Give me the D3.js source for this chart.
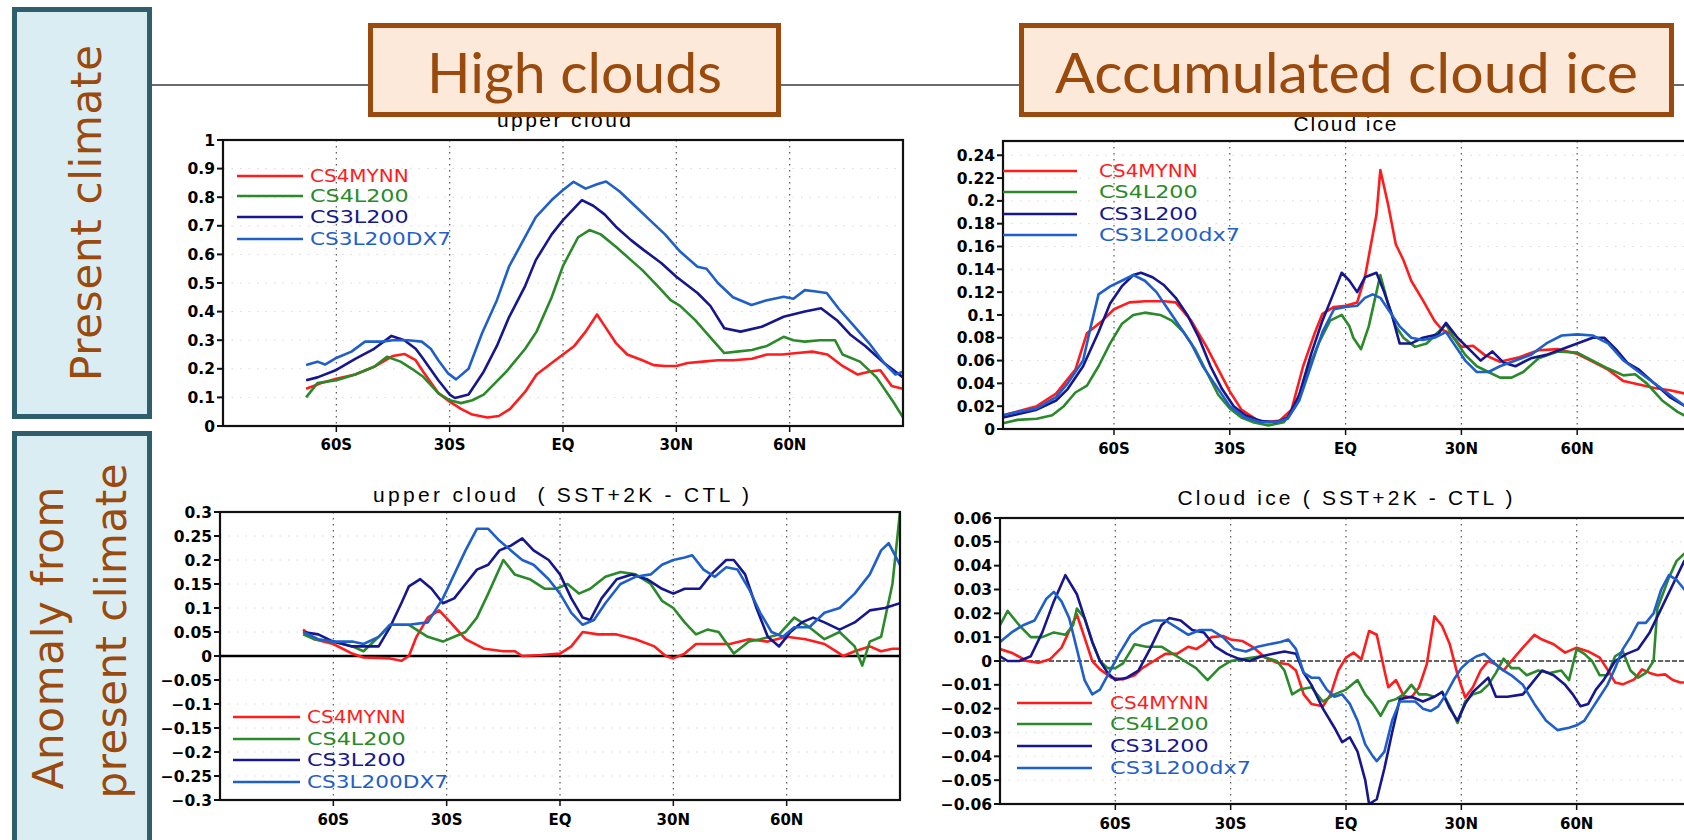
<!DOCTYPE html>
<html>
<head>
<meta charset="utf-8">
<script src="https://cdn.jsdelivr.net/npm/d3@7"></script>
<style>
  body { margin: 0; background: #fff; }
  svg { display: block; }
</style>
</head>
<body>
<script>
// ---- data ----
const latTicks = [-60, -30, 0, 30, 60];
const latLabels = ["60S", "30S", "EQ", "30N", "60N"];
const namesUpper = ["CS4MYNN", "CS4L200", "CS3L200", "CS3L200DX7"];
const namesIce = ["CS4MYNN", "CS4L200", "CS3L200", "CS3L200dx7"];

const ticksUC = [0, 0.1, 0.2, 0.3, 0.4, 0.5, 0.6, 0.7, 0.8, 0.9, 1];
const ticksUCd = [-0.3, -0.25, -0.2, -0.15, -0.1, -0.05, 0, 0.05, 0.1, 0.15, 0.2, 0.25, 0.3];
const ticksCI = [0, 0.02, 0.04, 0.06, 0.08, 0.1, 0.12, 0.14, 0.16, 0.18, 0.2, 0.22, 0.24];
const ticksCId = [-0.06, -0.05, -0.04, -0.03, -0.02, -0.01, 0, 0.01, 0.02, 0.03, 0.04, 0.05, 0.06];

// upper cloud, present climate  [lat, value]
const ucMynn = [[-68,.13],[-64,.15],[-60,.165],[-55,.18],[-50,.207],[-45,.245],[-42,.252],[-39,.23],[-37,.19],[-33,.115],[-30,.085],[-27,.06],[-24,.04],[-20,.03],[-17,.035],[-14,.06],[-10,.12],[-7,.18],[-3,.22],[0,.25],[3,.28],[6,.33],[9,.39],[11,.35],[14,.29],[17,.25],[21,.23],[24,.213],[27,.21],[30,.21],[33,.22],[37,.225],[41,.23],[45,.23],[50,.235],[54,.25],[58,.25],[62,.255],[66,.26],[70,.25],[74,.21],[78,.18],[81,.19],[84,.195],[87,.14],[90,.13]];
const ucL200 = [[-68,.10],[-65,.15],[-60,.16],[-55,.18],[-50,.207],[-46.6,.242],[-43,.225],[-40,.2],[-37,.172],[-33,.115],[-30,.09],[-27,.08],[-24,.09],[-21,.11],[-18,.15],[-15,.19],[-10,.27],[-7,.33],[-3,.45],[0,.56],[4,.66],[7,.685],[10,.67],[14,.627],[18,.58],[21,.545],[25,.49],[28.5,.44],[31,.42],[35,.37],[39,.31],[42.7,.255],[46,.26],[50,.266],[54,.28],[58.4,.312],[61,.3],[64,.295],[68,.3],[72,.3],[74,.25],[78.6,.225],[83,.17],[87.4,.085],[90,.03]];
const ucL200b = [[-68,.16],[-65,.17],[-60,.196],[-55,.235],[-50,.27],[-45.4,.315],[-42,.3],[-39,.27],[-37.4,.242],[-33,.16],[-30,.11],[-28.6,.098],[-25,.11],[-21,.19],[-17.5,.28],[-14.3,.38],[-10,.49],[-7.2,.58],[-3,.67],[0,.72],[5,.79],[8,.77],[11,.74],[14,.697],[18,.65],[21.4,.615],[26,.57],[30,.522],[35.6,.465],[39,.42],[42.7,.342],[47,.33],[52.6,.347],[58.4,.382],[64,.4],[68.3,.412],[72.5,.37],[76,.32],[80,.28],[85,.22],[90,.17]];
const ucDx7 = [[-68,.213],[-65,.225],[-63,.215],[-60,.238],[-56,.26],[-52.4,.295],[-48,.295],[-45,.30],[-41,.3],[-37.4,.295],[-35,.27],[-33,.23],[-30.5,.185],[-28.3,.163],[-25,.2],[-21.4,.325],[-17.5,.44],[-14.3,.557],[-10.5,.65],[-7.2,.73],[-3,.79],[0,.825],[2.8,.854],[6,.83],[9,.845],[11.4,.855],[15,.82],[19,.77],[23,.72],[27,.67],[31,.61],[35.6,.557],[38,.55],[41,.5],[45,.45],[49.9,.423],[54,.44],[58.4,.452],[61,.445],[64,.475],[67,.47],[69.8,.465],[73,.41],[77,.35],[81,.29],[85,.22],[88,.18],[90,.19]];

// upper cloud, SST+2K - CTL
const ucdMynn = [[-68,.055],[-65,.035],[-60,.025],[-55,.005],[-52,-.003],[-45,-.005],[-42,-.01],[-40,0],[-38,.04],[-35,.08],[-32,.095],[-29,.07],[-25,.035],[-20,.015],[-15,.01],[-12,.01],[-10,0],[-5,.002],[0,.005],[3,.02],[6,.05],[10,.045],[15,.045],[20,.035],[25,.02],[28,0],[30,-.005],[33,.005],[36,.025],[40,.025],[45,.025],[50,.035],[55,.03],[60,.04],[65,.035],[70,.025],[73,.01],[75,0],[78,.01],[82,.02],[85,.01],[88,.015],[90,.015]];
const ucdL200 = [[-68,.045],[-65,.035],[-60,.03],[-55,.02],[-52,.01],[-48,.04],[-45,.065],[-40,.065],[-35,.04],[-31,.03],[-28,.04],[-25,.05],[-22,.08],[-19,.13],[-15,.2],[-12,.17],[-8,.16],[-4,.14],[-1,.14],[2,.15],[5,.13],[8,.14],[12,.165],[16,.175],[20,.17],[24,.15],[27,.115],[30,.1],[33,.07],[36,.045],[39,.055],[42,.05],[46,.005],[50,.03],[53,.035],[58,.045],[62,.08],[66,.06],[70,.035],[74,.05],[78,.02],[80,-.02],[82,.03],[85,.04],[88,.15],[90,.3]];
const ucdL200b = [[-68,.05],[-64,.045],[-60,.03],[-55,.02],[-52,.02],[-48,.02],[-45,.06],[-42,.11],[-40,.145],[-37,.16],[-34,.14],[-31,.11],[-28,.12],[-25,.15],[-22,.18],[-19,.19],[-16,.22],[-13,.23],[-10,.245],[-7,.22],[-3,.2],[0,.17],[3,.12],[6,.08],[8,.075],[11,.12],[15,.16],[19,.17],[23,.16],[27,.14],[30,.13],[33,.14],[37,.14],[40,.17],[44,.2],[46,.2],[49,.17],[52,.1],[55,.04],[58,.02],[61,.05],[64,.07],[67,.08],[70,.07],[74,.055],[78,.07],[82,.095],[86,.1],[90,.11]];
const ucdDx7 = [[-68,.05],[-64,.035],[-60,.03],[-55,.03],[-52,.025],[-48,.04],[-45,.065],[-40,.065],[-35,.07],[-31,.12],[-28,.17],[-25,.22],[-22,.265],[-19,.265],[-16,.24],[-13,.22],[-10,.2],[-7,.19],[-3,.16],[0,.13],[3,.09],[6,.065],[9,.075],[12,.11],[16,.15],[20,.165],[24,.17],[27,.19],[30,.2],[33,.205],[35,.21],[38,.18],[41,.165],[44,.185],[47,.18],[50,.14],[53,.09],[56,.05],[59,.04],[62,.06],[66,.06],[70,.09],[74,.1],[78,.13],[82,.17],[85,.22],[87,.235],[90,.19]];

// accumulated cloud ice, present climate
const ciMynn = [[-88.75,.012],[-80,.02],[-75,.031],[-70,.052],[-67,.084],[-63,.095],[-60,.105],[-56,.111],[-52,.112],[-47,.112],[-44,.111],[-40,.095],[-36,.072],[-32,.046],[-30,.033],[-27,.017],[-23,.008],[-20,.006],[-17,.0075],[-14,.017],[-11,.055],[-8,.084],[-6,.101],[-3,.107],[0,.108],[3,.111],[5,.133],[8,.188],[9,.227],[11,.197],[13,.162],[15,.148],[17,.13],[20,.113],[23,.095],[25,.087],[27,.084],[30,.072],[33,.073],[36,.065],[40,.059],[45,.063],[50,.069],[55,.07],[60,.066],[64,.059],[68,.052],[72,.042],[76,.039],[80,.036],[84,.034],[88,.031],[90,.03]];
const ciL200 = [[-88.75,.005],[-85,.008],[-80,.009],[-76,.012],[-73,.02],[-70,.032],[-67,.038],[-64,.055],[-61,.075],[-58,.092],[-55,.1],[-52,.102],[-48,.1],[-45,.095],[-42,.085],[-39,.07],[-36,.05],[-33,.03],[-30,.018],[-27,.01],[-24,.006],[-20,.003],[-16,.006],[-13,.02],[-10,.05],[-7,.075],[-4,.095],[-1,.1],[1,.09],[2,.08],[4,.07],[6,.09],[8,.12],[9,.135],[11,.11],[13,.09],[15,.08],[18,.072],[21,.075],[24,.085],[26,.092],[28,.08],[31,.065],[34,.055],[37,.05],[40,.045],[43,.045],[46,.05],[50,.062],[55,.068],[60,.067],[64,.06],[68,.053],[72,.047],[75,.048],[78,.04],[82,.025],[86,.015],[90,.008]];
const ciL200b = [[-88.75,.01],[-85,.013],[-80,.017],[-75,.025],[-72,.035],[-68,.055],[-64,.085],[-61,.11],[-58,.125],[-55,.135],[-53,.137],[-50,.133],[-47,.126],[-44,.115],[-41,.1],[-38,.08],[-35,.055],[-32,.035],[-29,.02],[-26,.012],[-22,.007],[-18,.006],[-15,.01],[-12,.03],[-9,.065],[-6,.095],[-3,.12],[-1,.137],[1,.13],[3,.12],[5,.133],[8,.137],[10,.12],[12,.1],[14,.075],[17,.075],[20,.08],[24,.083],[26,.093],[29,.08],[32,.07],[35,.06],[38,.068],[41,.058],[44,.055],[48,.062],[52,.065],[56,.07],[60,.075],[64,.08],[67,.08],[70,.07],[73,.058],[76,.052],[80,.04],[84,.028],[88,.02],[90,.016]];
const ciDx7 = [[-88.75,.012],[-85,.015],[-80,.018],[-75,.028],[-72,.04],[-68,.06],[-66,.09],[-64,.118],[-61,.125],[-58,.13],[-55,.135],[-52,.13],[-49,.12],[-46,.105],[-43,.09],[-40,.075],[-37,.055],[-34,.04],[-30,.02],[-26,.01],[-22,.006],[-18,.006],[-15,.009],[-12,.025],[-9,.055],[-6,.085],[-3,.105],[0,.107],[3,.108],[5,.115],[7,.118],[9,.115],[12,.1],[14,.09],[17,.08],[20,.078],[23,.08],[26,.085],[28,.075],[31,.06],[34,.05],[37,.05],[40,.055],[44,.06],[48,.065],[52,.075],[56,.082],[60,.083],[64,.082],[68,.075],[72,.06],[76,.05],[80,.04],[84,.03],[88,.02],[90,.018]];

// accumulated cloud ice, SST+2K - CTL
const cidMynn = [[-90,.005],[-87,.0035],[-83,0],[-80,-.0007],[-77,.0007],[-74,.0056],[-72,.0126],[-70,.0195],[-68,.0098],[-66,0],[-64,-.0035],[-61,-.007],[-58,-.0077],[-55,-.006],[-53,-.003],[-50,0],[-47,.003],[-44,.003],[-41,.006],[-39,.005],[-37,.007],[-35,.01],[-32,.0105],[-30,.009],[-27,.0084],[-24,.0056],[-21,.0014],[-18,-.0007],[-15,-.0014],[-13,-.004],[-11,-.014],[-9,-.018],[-6,-.019],[-4,-.014],[-2,-.004],[0,.0014],[2,.0035],[4,.0007],[6,.0126],[8,.011],[10,-.004],[11,-.011],[13,-.008],[15,-.0147],[17,-.0153],[19,-.011],[21,-.0014],[23,.0188],[25,.0147],[27,.007],[29,-.0056],[31,-.0153],[33,-.011],[35,-.004],[37,0],[39,-.0014],[41,-.004],[43,0],[46,.0056],[49,.011],[51,.009],[54,.007],[57,.0035],[60,.0056],[63,.004],[66,.0014],[68,-.0035],[70,-.009],[72,-.0098],[75,-.0077],[77,-.0035],[79,-.005],[81,-.006],[83,-.0056],[85,-.008],[87,-.009],[90,-.009]];
const cidL200 = [[-90,.015],[-88,.021],[-85,.015],[-82,.01],[-79,.01],[-76,.012],[-73,.011],[-71,.015],[-70,.022],[-68,.018],[-66,.008],[-64,0],[-62,-.003],[-60,-.003],[-58,-.001],[-55,.007],[-52,.006],[-48,.006],[-45,.003],[-42,0],[-39,-.003],[-36,-.008],[-33,-.003],[-30,0],[-26,.001],[-22,.002],[-18,0],[-16,-.004],[-14,-.014],[-12,-.012],[-9,-.011],[-6,-.017],[-3,-.014],[0,-.012],[3,-.008],[5,-.014],[7,-.018],[9,-.023],[11,-.017],[13,-.016],[15,-.014],[17,-.01],[19,-.014],[21,-.014],[23,-.015],[25,-.013],[27,-.019],[29,-.026],[31,-.017],[33,-.014],[35,-.013],[37,-.01],[39,-.005],[41,.001],[43,-.003],[45,-.003],[47,-.006],[50,-.004],[53,-.005],[56,-.004],[58,-.008],[60,.005],[62,.003],[64,0],[66,-.006],[68,-.006],[70,.002],[72,.004],[74,-.004],[76,-.007],[78,-.005],[80,0],[81,.022],[84,.035],[86,.042],[88,.045],[90,.048]];
const cidL200b = [[-90,.002],[-88,0],[-85,0],[-82,.002],[-79,.012],[-76,.025],[-73,.036],[-70,.028],[-68,.018],[-66,.008],[-64,0],[-62,-.005],[-60,-.008],[-57,-.007],[-54,-.004],[-51,.005],[-48,.015],[-46,.018],[-43,.017],[-40,.013],[-37,.012],[-34,.006],[-31,.003],[-28,.001],[-25,0],[-22,.002],[-19,.003],[-16,.004],[-13,.003],[-11,-.005],[-9,-.01],[-6,-.02],[-3,-.028],[-1,-.034],[1,-.032],[3,-.038],[5,-.05],[6,-.06],[8,-.058],[10,-.045],[12,-.03],[14,-.016],[17,-.015],[20,-.017],[23,-.015],[25,-.013],[27,-.02],[29,-.025],[31,-.018],[33,-.013],[35,-.01],[37,-.007],[39,-.015],[42,-.015],[46,-.014],[48,-.01],[51,-.004],[54,-.006],[57,-.01],[59,-.014],[61,-.019],[63,-.018],[65,-.012],[67,-.008],[70,0],[73,.003],[76,.005],[79,.012],[82,.022],[85,.032],[88,.042],[90,.045]];
const cidDx7 = [[-90,.008],[-87,.012],[-84,.015],[-81,.017],[-78,.026],[-76,.029],[-74,.025],[-72,.018],[-70,.005],[-68,-.008],[-66,-.014],[-64,-.012],[-62,-.006],[-59,.003],[-56,.011],[-53,.015],[-50,.017],[-47,.017],[-44,.014],[-41,.011],[-38,.013],[-35,.013],[-32,.01],[-29,.005],[-26,.004],[-23,.006],[-20,.007],[-17,.008],[-15,.009],[-13,.005],[-11,-.005],[-9,-.007],[-7,-.007],[-5,-.012],[-3,-.015],[-1,-.014],[1,-.018],[3,-.025],[5,-.035],[7,-.04],[8,-.042],[10,-.038],[12,-.025],[14,-.017],[16,-.017],[18,-.017],[20,-.02],[22,-.021],[24,-.019],[26,-.014],[28,-.008],[30,-.003],[32,0],[34,.002],[36,.003],[38,0],[40,-.003],[43,-.006],[46,-.01],[49,-.018],[52,-.025],[55,-.029],[58,-.028],[60,-.027],[62,-.025],[64,-.02],[66,-.015],[68,-.01],[70,-.003],[72,.005],[74,.01],[76,.016],[78,.016],[80,.02],[82,.03],[84,.036],[86,.034],[88,.03],[90,.028]];

// ---- drawing ----
const W = 1684, H = 840;
const colors = ["#ff1c1c", "#2a8a2a", "#16168f", "#1f5fcc"];
const brown = "#994a0c";
const tickFont = "'DejaVu Sans', sans-serif";

const svg = d3.select("body").append("svg")
  .attr("width", W).attr("height", H)
  .attr("viewBox", `0 0 ${W} ${H}`);

// divider line behind the header boxes
svg.append("line")
  .attr("x1", 152).attr("x2", W).attr("y1", 85).attr("y2", 85)
  .attr("stroke", "#3a3a3a").attr("stroke-width", 1.3);

const fmt = v => {
  if (Math.abs(v) < 1e-9) return "0";
  return String(+v.toFixed(3)).replace("-", "\u2212");
};

const panels = [
  { id: "p1", xr: [223, 903], lat: [-90, 90], yd: [0, 1], yr: [426, 140], ticks: ticksUC,
    title: "upper cloud", titleX: 564, titleY: 127, titleLen: 134,
    series: [ucMynn, ucL200, ucL200b, ucDx7], names: namesUpper,
    legend: { x0: 237, x1: 303, tx: 310, ys: [176, 196, 217, 239] }, zero: null, labY: 450 },
  { id: "p2", xr: [220, 900], lat: [-90, 90], yd: [-0.3, 0.3], yr: [800, 512], ticks: ticksUCd,
    title: "upper cloud  ( SST+2K - CTL )", titleX: 561, titleY: 502, titleLen: 376,
    series: [ucdMynn, ucdL200, ucdL200b, ucdDx7], names: namesUpper,
    legend: { x0: 233, x1: 300, tx: 307, ys: [717, 739, 760, 782] }, zero: "solid", labY: 825 },
  { id: "p3", xr: [1003, 1693], lat: [-88.75, 90], yd: [0, 0.2525], yr: [429, 141], ticks: ticksCI,
    title: "Cloud ice", titleX: 1345, titleY: 131, titleLen: 103,
    series: [ciMynn, ciL200, ciL200b, ciDx7], names: namesIce,
    legend: { x0: 1003, x1: 1077, tx: 1099, ys: [171, 192, 214, 235] }, zero: null, labY: 454 },
  { id: "p4", xr: [1000, 1692], lat: [-90, 90], yd: [-0.06, 0.06], yr: [804, 518], ticks: ticksCId,
    title: "Cloud ice ( SST+2K - CTL )", titleX: 1345, titleY: 505, titleLen: 335,
    series: [cidMynn, cidL200, cidL200b, cidDx7], names: namesIce,
    legend: { x0: 1017, x1: 1092, tx: 1110, ys: [703, 724, 746, 768] }, zero: "dash", labY: 829 }
];

panels.forEach(p => {
  const x = d3.scaleLinear().domain(p.lat).range(p.xr);
  const y = d3.scaleLinear().domain(p.yd).range(p.yr);
  const g = svg.append("g");
  const top = p.yr[1], bot = p.yr[0];

  g.append("clipPath").attr("id", "clip-" + p.id)
    .append("rect").attr("x", p.xr[0]).attr("y", top)
    .attr("width", p.xr[1] - p.xr[0]).attr("height", bot - top);

  // title (partly covered by the header boxes in the top row)
  g.append("text")
    .attr("x", p.titleX).attr("y", p.titleY)
    .attr("text-anchor", "middle")
    .attr("font-family", "'Liberation Sans', sans-serif")
    .attr("font-size", 21)
    .attr("textLength", p.titleLen).attr("lengthAdjust", "spacing")
    .attr("xml:space", "preserve")
    .text(p.title);

  // faint horizontal grid
  g.selectAll("line.hgrid").data(p.ticks).enter().append("line")
    .attr("class", "hgrid")
    .attr("x1", p.xr[0]).attr("x2", p.xr[1])
    .attr("y1", d => y(d)).attr("y2", d => y(d))
    .attr("stroke", "#d8d8d8").attr("stroke-width", 1)
    .attr("stroke-dasharray", "1.5,7");

  // dotted latitude grid
  g.selectAll("line.vgrid").data(latTicks).enter().append("line")
    .attr("class", "vgrid")
    .attr("x1", d => x(d)).attr("x2", d => x(d))
    .attr("y1", top).attr("y2", bot)
    .attr("stroke", "#555").attr("stroke-width", 1.2)
    .attr("stroke-dasharray", "1.5,4.5");

  // zero line
  if (p.zero) {
    g.append("line")
      .attr("x1", p.xr[0]).attr("x2", p.xr[1])
      .attr("y1", y(0)).attr("y2", y(0))
      .attr("stroke", p.zero === "solid" ? "#000" : "#333")
      .attr("stroke-width", p.zero === "solid" ? 2.6 : 1.3)
      .attr("stroke-dasharray", p.zero === "solid" ? null : "5,2");
  }

  // series
  const line = d3.line().x(d => x(d[0])).y(d => y(d[1]));
  g.append("g").attr("clip-path", `url(#clip-${p.id})`)
    .selectAll("path").data(p.series).enter().append("path")
    .attr("d", line)
    .attr("fill", "none")
    .attr("stroke", (d, i) => colors[i])
    .attr("stroke-width", 2.6)
    .attr("stroke-linejoin", "round");

  // frame
  g.append("rect")
    .attr("x", p.xr[0]).attr("y", top)
    .attr("width", p.xr[1] - p.xr[0]).attr("height", bot - top)
    .attr("fill", "none").attr("stroke", "#111").attr("stroke-width", 2.2);

  // y axis ticks and labels
  const yt = g.selectAll("g.ytick").data(p.ticks).enter().append("g")
    .attr("transform", d => `translate(${p.xr[0]},${y(d)})`);
  yt.append("line").attr("x1", -6).attr("x2", 0)
    .attr("stroke", "#111").attr("stroke-width", 2);
  yt.append("text")
    .attr("x", -8).attr("dy", "0.36em")
    .attr("text-anchor", "end")
    .attr("font-family", tickFont).attr("font-weight", "bold")
    .attr("font-size", 15.5)
    .text(fmt);

  // latitude ticks and labels
  const xt = g.selectAll("g.xtick").data(latTicks).enter().append("g")
    .attr("transform", d => `translate(${x(d)},${bot})`);
  xt.append("line").attr("y1", 0).attr("y2", 6)
    .attr("stroke", "#111").attr("stroke-width", 1.5);
  xt.append("text")
    .attr("y", p.labY - bot).attr("text-anchor", "middle")
    .attr("font-family", tickFont).attr("font-weight", "bold")
    .attr("font-size", 15)
    .text((d, i) => latLabels[i]);

  // legend
  const lg = g.selectAll("g.leg").data(p.names).enter().append("g")
    .attr("transform", (d, i) => `translate(0,${p.legend.ys[i]})`);
  lg.append("line").attr("x1", p.legend.x0).attr("x2", p.legend.x1)
    .attr("stroke", (d, i) => colors[i]).attr("stroke-width", 2.6);
  lg.append("text")
    .attr("x", p.legend.tx).attr("dy", "0.36em")
    .attr("font-family", "'DejaVu Sans', sans-serif")
    .attr("font-size", 18)
    .attr("fill", (d, i) => colors[i])
    .attr("textLength", d => d.length * 14.1)
    .attr("lengthAdjust", "spacingAndGlyphs")
    .text(d => d);
});

// header boxes
const headers = [
  { text: "High clouds", x: 370.5, y: 25.5, w: 408, h: 89, tl: 295 },
  { text: "Accumulated cloud ice", x: 1021.5, y: 25.5, w: 650, h: 89, tl: 583 }
];
const hg = svg.selectAll("g.header").data(headers).enter().append("g");
hg.append("rect")
  .attr("x", d => d.x).attr("y", d => d.y)
  .attr("width", d => d.w).attr("height", d => d.h)
  .attr("fill", "#fde9d9").attr("stroke", brown).attr("stroke-width", 5);
hg.append("text")
  .attr("x", d => d.x + d.w / 2).attr("y", 93)
  .attr("text-anchor", "middle")
  .attr("font-family", "Lato, 'Open Sans', sans-serif")
  .attr("font-size", 56)
  .attr("fill", brown)
  .attr("textLength", d => d.tl).attr("lengthAdjust", "spacingAndGlyphs")
  .text(d => d.text);

// row labels on the left
const rows = [
  { y: 9.5, h: 407, lines: [{ t: "Present climate", x: 101, cy: 213, len: 336 }] },
  { y: 433.5, h: 420, lines: [{ t: "Anomaly from", x: 63, cy: 638, len: 303 },
                              { t: "present climate", x: 126, cy: 631, len: 335 }] }
];
rows.forEach(r => {
  svg.append("rect")
    .attr("x", 14.5).attr("y", r.y).attr("width", 135).attr("height", r.h)
    .attr("fill", "#daedf3").attr("stroke", "#2f5f6d").attr("stroke-width", 5);
  r.lines.forEach(l => {
    svg.append("text")
      .attr("transform", `translate(${l.x},${l.cy}) rotate(-90)`)
      .attr("text-anchor", "middle")
      .attr("font-family", "'DejaVu Sans', sans-serif")
      .attr("font-size", 42)
      .attr("fill", brown)
      .attr("textLength", l.len).attr("lengthAdjust", "spacing")
      .text(l.t);
  });
});
</script>
</body>
</html>
